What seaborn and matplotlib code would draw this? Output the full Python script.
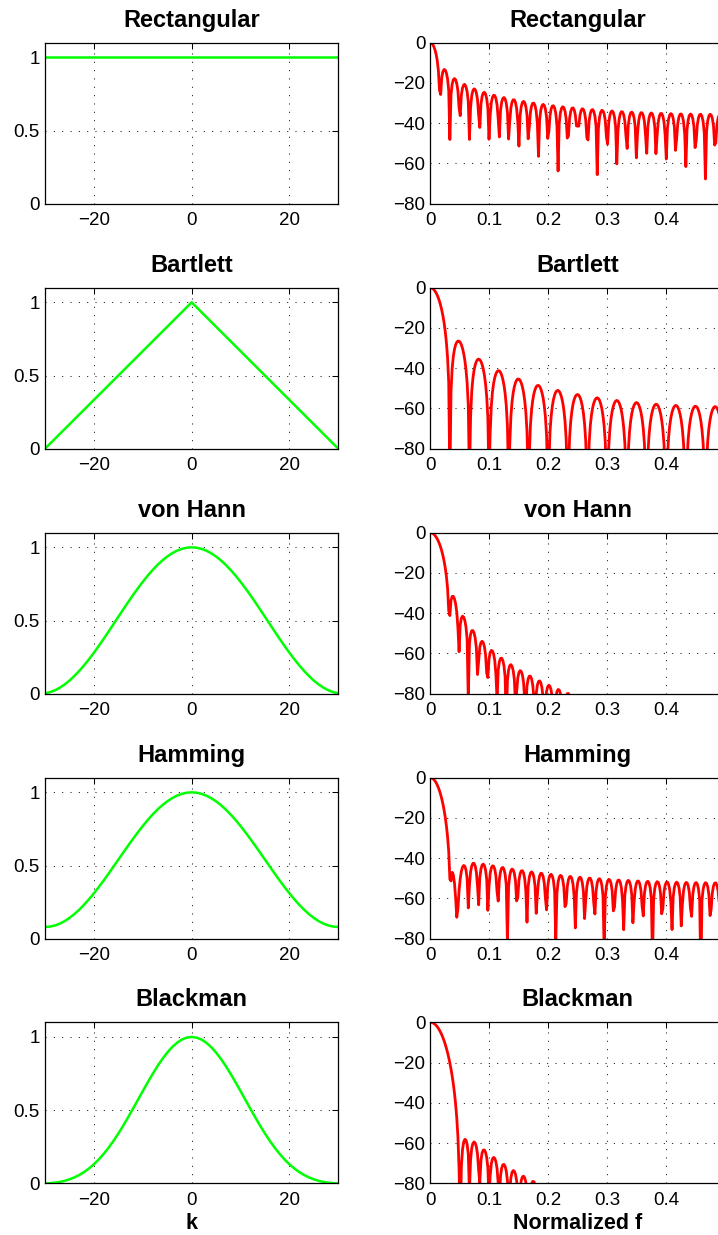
import numpy as np
import matplotlib
matplotlib.use("Agg")
import matplotlib.pyplot as plt
from matplotlib.ticker import FuncFormatter
import seaborn as sns

# Window names and the sample index k = -30 ... 30
titles = ["Rectangular", "Bartlett", "von Hann", "Hamming", "Blackman"]
half_width = 30
k = np.arange(-half_width, half_width + 1)
windows = [
    np.ones(k.size),
    np.bartlett(k.size),
    np.hanning(k.size + 2)[1:-1],   # von Hann without the zero end samples
    np.hamming(k.size),
    np.blackman(k.size),
]
# number of samples of each window fed to the transform
transform_lengths = [60, 61, 61, 61, 61]
nfft = 512

time_xticks = [-20, 0, 20]
time_yticks = [0, 0.5, 1]
freq_xticks = [0, 0.1, 0.2, 0.3, 0.4]
freq_yticks = [-80, -60, -40, -20, 0]

freqs = np.fft.rfftfreq(nfft)


def spectrum_db(w, n):
    """Magnitude response in dB (0 dB at the peak) of the first n samples."""
    mag = np.abs(np.fft.rfft(w[:n], nfft))
    with np.errstate(divide="ignore"):
        db = 20 * np.log10(mag / mag.max())
    db[db < -200] = np.nan  # exact zeros of the transform
    return db


sns.set_theme(style="white")
plt.rcParams["font.family"] = ["Liberation Sans", "DejaVu Sans"]
plt.rcParams["axes.unicode_minus"] = True
plt.rcParams["text.color"] = "black"
plt.rcParams["axes.labelcolor"] = "black"
plt.rcParams["xtick.color"] = "black"
plt.rcParams["ytick.color"] = "black"

W, H = 718, 1235
fig = plt.figure(figsize=(W / 100, H / 100), dpi=100)
fig.patch.set_facecolor("white")

row_tops = [42.7, 287.7, 532.7, 777.7, 1022.3]
ax_h = 161.0
left_x, left_w = 45.0, 293.3
right_x, right_w = 430.3, 294.7

fmt = FuncFormatter(lambda v, _: f"{v:g}".replace("-", "\u2212"))


def add_axes(x, top, w):
    return fig.add_axes([x / W, 1 - (top + ax_h) / H, w / W, ax_h / H])


def style(ax):
    ax.set_facecolor("white")
    ax.grid(True, color="0.1", linestyle=(0, (1, 7)), linewidth=0.75)
    ax.set_axisbelow(True)
    ax.tick_params(direction="in", top=True, right=True, length=4, width=0.75,
                   labelsize=13.5, colors="black", labelcolor="black", pad=6)
    ax.tick_params(axis="y", pad=3.6)
    for s in ax.spines.values():
        s.set_visible(True)
        s.set_linewidth(0.9)
        s.set_color("black")
    ax.xaxis.set_major_formatter(fmt)
    ax.yaxis.set_major_formatter(fmt)


for i, (title, w, n) in enumerate(zip(titles, windows, transform_lengths)):
    top = row_tops[i]
    last = i == len(titles) - 1

    # time-domain window
    ax = add_axes(left_x, top, left_w)
    sns.lineplot(x=k, y=w, ax=ax, color=(0, 1, 0), linewidth=1.8, estimator=None)
    ax.set_xlim(-half_width, half_width)
    ax.set_ylim(0, 1.1)
    ax.set_xticks(time_xticks)
    ax.set_yticks(time_yticks)
    style(ax)
    ax.set_title(title, fontsize=17, fontweight="bold", pad=11.5, color="black")
    ax.set_xlabel("k" if last else "", fontsize=15.5, fontweight="bold",
                  labelpad=3, color="black")
    ax.set_ylabel("")

    # magnitude response
    ax = add_axes(right_x, top, right_w)
    sns.lineplot(x=freqs, y=spectrum_db(w, n), ax=ax, color=(1, 0, 0),
                 linewidth=2.0, estimator=None)
    ax.set_xlim(0, 0.5)
    ax.set_ylim(-80, 0)
    ax.set_xticks(freq_xticks)
    ax.set_yticks(freq_yticks)
    style(ax)
    ax.set_title(title, fontsize=17, fontweight="bold", pad=11.5, color="black")
    ax.set_xlabel("Normalized f" if last else "", fontsize=15.5,
                  fontweight="bold", labelpad=3, color="black")
    ax.set_ylabel("")

fig.savefig("out.png", dpi=100, facecolor="white")
